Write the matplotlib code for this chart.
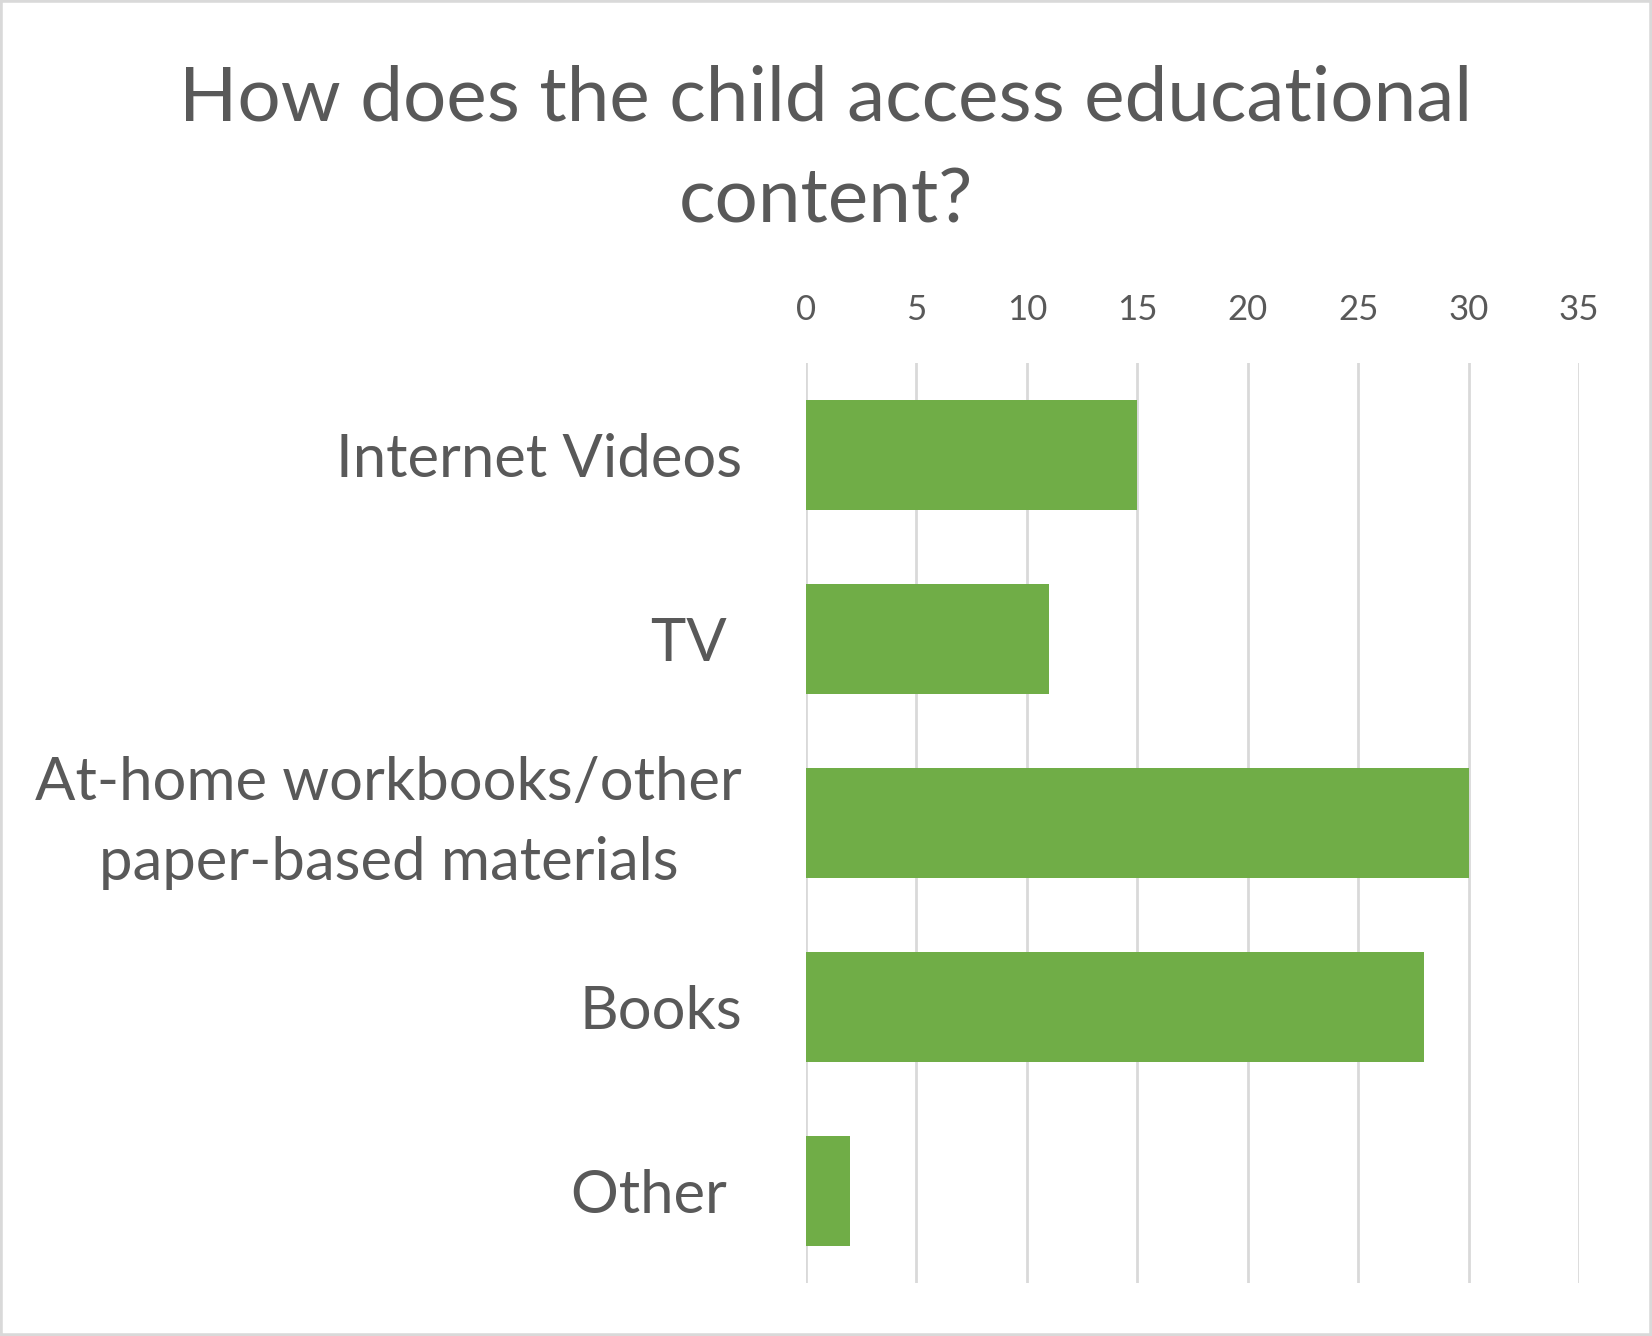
import matplotlib
matplotlib.use("Agg")
import matplotlib.pyplot as plt
from matplotlib.patches import Rectangle

categories = ["Internet Videos", "TV ", "At-home workbooks/other\npaper-based materials", "Books", "Other "]
values = [15, 11, 30, 28, 2]
xticks = [0, 5, 10, 15, 20, 25, 30, 35]
title = "How does the child access educational\ncontent?"

TEXT = "#595959"
GRID = "#D9D9D9"
BAR = "#70AD47"

plt.rcParams['font.family'] = ['Lato', 'DejaVu Sans']

fig = plt.figure(figsize=(16.52, 13.36), dpi=100)
ax = fig.add_axes([806/1652, 1 - 1283/1336, (1579 - 806)/1652, (1283 - 363)/1336])

ypos = list(range(len(categories)))
ax.barh(ypos, values, height=0.6, color=BAR, zorder=3)
ax.set_ylim(len(categories) - 0.5, -0.5)
ax.set_xlim(0, 35)
ax.set_xticks(xticks)
ax.set_xticklabels([str(t) for t in xticks])
ax.xaxis.tick_top()
ax.set_yticks(ypos)
ax.set_yticklabels(categories, multialignment='center', linespacing=1.6)
for lab in ax.get_yticklabels():
    if "\n" in lab.get_text():
        lab.set_verticalalignment('center')
ax.tick_params(axis='x', length=0, pad=27, labelsize=25, labelcolor=TEXT)
ax.tick_params(axis='y', length=0, pad=46, labelsize=43, labelcolor=TEXT)
ax.grid(axis='x', color=GRID, linewidth=2, zorder=0)
ax.grid(axis='y', visible=False)
for s in ax.spines.values():
    s.set_visible(False)

fig.text(0.5, 1 - 150/1336, title, ha='center', va='center', fontsize=55,
         color=TEXT, linespacing=1.6)

fig.patches.append(Rectangle((0, 0), 1, 1, transform=fig.transFigure, fill=False,
                             edgecolor=GRID, linewidth=4, zorder=10))

fig.savefig("out.png", dpi=100, facecolor="white")
